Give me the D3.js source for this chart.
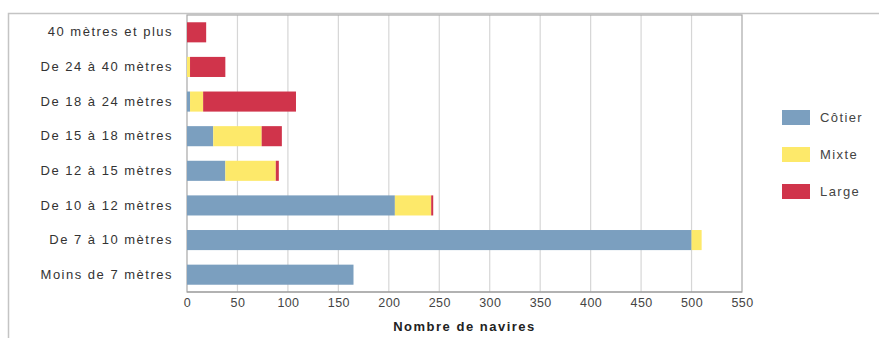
<!DOCTYPE html>
<html><head><meta charset="utf-8">
<script src="https://cdn.jsdelivr.net/npm/d3@7"></script>
<style>body{margin:0;background:#fff;}svg{display:block;font-family:"Liberation Sans",Arial,sans-serif;}</style>
</head><body>
<svg id="c" width="879" height="338"></svg>
<script>
const categories = ["40 mètres et plus","De 24 à 40 mètres","De 18 à 24 mètres","De 15 à 18 mètres","De 12 à 15 mètres","De 10 à 12 mètres","De 7 à 10 mètres","Moins de 7 mètres"];
const seriesNames = ["Côtier","Mixte","Large"];
const cotier = [0, 0, 3, 26, 38, 206, 500, 165];
const mixte  = [0, 3, 13, 48, 50, 36, 10, 0];
const large  = [19, 35, 92, 20, 3, 2, 0, 0];
const xTicks = [0,50,100,150,200,250,300,350,400,450,500,550];
const colors = ["#7b9fbf","#fde96a","#d0344b"];
const axisTitle = "Nombre de navires";

const svg = d3.select("#c");
const m = {left:187, right:742, top:15, bottom:292};
const x = d3.scaleLinear().domain([0,550]).range([m.left, m.right]);
const y = d3.scaleBand().domain(categories).range([m.top, m.bottom]).paddingInner(0.42).paddingOuter(0.21);

// outer frame
svg.append("path").attr("d", `M8.5,338 V13.5 H879`).attr("fill","none").attr("stroke","#c4c4c4").attr("stroke-width",1.5);

// gridlines
svg.append("g").selectAll("line").data(xTicks.slice(1,-1)).join("line")
  .attr("x1",d=>x(d)).attr("x2",d=>x(d)).attr("y1",m.top).attr("y2",m.bottom)
  .attr("stroke","#d6d6d6").attr("stroke-width",1.2);

// plot border
svg.append("rect").attr("x",m.left).attr("y",m.top).attr("width",m.right-m.left).attr("height",m.bottom-m.top)
  .attr("fill","none").attr("stroke","#a8a8a8").attr("stroke-width",1.2);

const rows = categories.map((c,i)=>({cat:c, Côtier:cotier[i], Mixte:mixte[i], Large:large[i]}));
const stack = d3.stack().keys(seriesNames)(rows);
svg.append("g").selectAll("g").data(stack).join("g").attr("fill",(d,i)=>colors[i])
  .selectAll("rect").data(d=>d).join("rect")
  .attr("x",d=>x(d[0])).attr("width",d=>x(d[1])-x(d[0]))
  .attr("y",d=>y(d.data.cat)).attr("height",y.bandwidth());

// axis line
svg.append("line").attr("x1",m.left).attr("x2",m.right).attr("y1",m.bottom).attr("y2",m.bottom).attr("stroke","#999").attr("stroke-width",1.2);

// x axis
const xa = svg.append("g").attr("transform",`translate(0,${m.bottom})`)
  .call(d3.axisBottom(x).tickValues(xTicks).tickSize(0).tickPadding(6));
xa.select(".domain").remove();
xa.selectAll("text").attr("font-size",12.5).attr("fill","#444").attr("letter-spacing","0.4px").attr("font-family","Liberation Sans, Arial, sans-serif");

// y axis
const ya = svg.append("g").attr("transform",`translate(${m.left},0)`)
  .call(d3.axisLeft(y).tickSize(0).tickPadding(14));
ya.select(".domain").remove();
ya.selectAll("text").attr("font-size",13).attr("letter-spacing","1.5px").attr("fill","#333").attr("font-family","Liberation Sans, Arial, sans-serif");

svg.append("text").attr("x",(m.left+m.right)/2).attr("y",331).attr("text-anchor","middle")
  .attr("font-size",13).attr("letter-spacing","1.5px").attr("font-weight","bold").attr("fill","#222").text(axisTitle);

// legend
const lg = svg.append("g").selectAll("g").data(seriesNames).join("g")
  .attr("transform",(d,i)=>`translate(782,${110+i*37})`);
lg.append("rect").attr("width",28).attr("height",15).attr("fill",(d,i)=>colors[i]);
lg.append("text").attr("x",38).attr("y",12).attr("font-size",13).attr("letter-spacing","1.4px").attr("fill","#444").text(d=>d);
</script>
</body></html>
